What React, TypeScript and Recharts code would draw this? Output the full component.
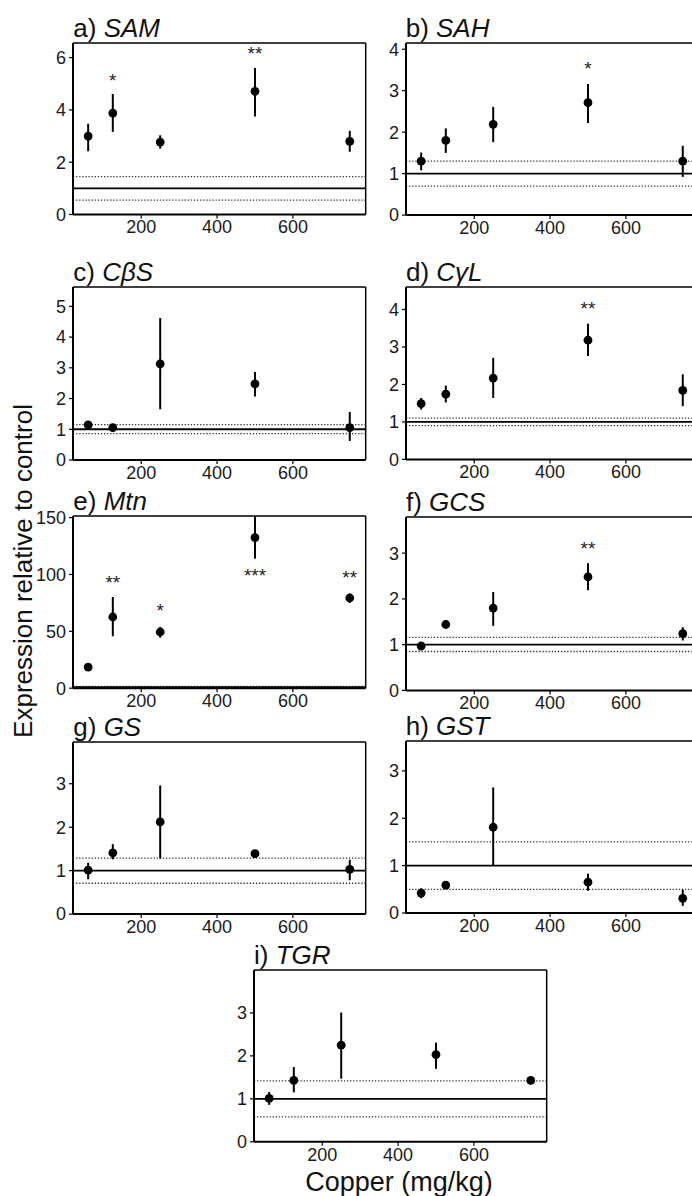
import React from 'react';
import { ScatterChart, Scatter, XAxis, YAxis, ReferenceLine, ErrorBar } from 'recharts';

// copper doses (mg/kg)
const doses = [60, 125, 250, 500, 750];
const xTicks = [200, 400, 600];
const xDomain = [20, 792];

// a) SAM
const samMean = [3.0, 3.88, 2.77, 4.71, 2.8];
const samHigh = [3.47, 4.61, 3.03, 5.6, 3.2];
const samLow = [2.42, 3.16, 2.52, 3.75, 2.4];
const samBand = [0.55, 1.45];
const samStars = [{ x: 125, y: 5.3, text: '*' }, { x: 500, y: 6.32, text: '**' }];

// b) SAH
const sahMean = [1.3, 1.8, 2.19, 2.71, 1.3];
const sahHigh = [1.51, 2.09, 2.61, 3.16, 1.67];
const sahLow = [1.08, 1.5, 1.76, 2.22, 0.92];
const sahBand = [0.7, 1.3];
const sahStars = [{ x: 500, y: 3.65, text: '*' }];

// c) CβS
const cbsMean = [1.14, 1.05, 3.13, 2.48, 1.05];
const cbsHigh = [1.18, 1.09, 4.62, 2.86, 1.56];
const cbsLow = [1.1, 1.01, 1.65, 2.07, 0.62];
const cbsBand = [0.86, 1.15];
const cbsStars: { x: number; y: number; text: string }[] = [];

// d) CγL
const cglMean = [1.49, 1.74, 2.17, 3.18, 1.84];
const cglHigh = [1.64, 1.97, 2.71, 3.62, 2.27];
const cglLow = [1.33, 1.52, 1.64, 2.76, 1.42];
const cglBand = [0.9, 1.1];
const cglStars = [{ x: 500, y: 4.14, text: '**' }];

// e) Mtn
const mtnMean = [18.6, 62.6, 49.4, 132.4, 79.3];
const mtnHigh = [21.5, 80.2, 53.8, 151, 83.2];
const mtnLow = [15.5, 45.6, 44.5, 113.9, 74.9];
const mtnBand = [0.5, 1.5];
const mtnStars = [
  { x: 125, y: 97.2, text: '**' },
  { x: 250, y: 72.3, text: '*' },
  { x: 500, y: 102.8, text: '***' },
  { x: 750, y: 101.3, text: '**' },
];

// f) GCS
const gcsMean = [0.97, 1.44, 1.8, 2.48, 1.24];
const gcsHigh = [1.0, 1.47, 2.15, 2.78, 1.38];
const gcsLow = [0.94, 1.41, 1.41, 2.19, 1.09];
const gcsBand = [0.85, 1.16];
const gcsStars = [{ x: 500, y: 3.2, text: '**' }];

// g) GS
const gsMean = [1.01, 1.41, 2.12, 1.39, 1.03];
const gsHigh = [1.18, 1.61, 2.96, 1.47, 1.25];
const gsLow = [0.8, 1.26, 1.28, 1.29, 0.78];
const gsBand = [0.71, 1.29];
const gsStars: { x: number; y: number; text: string }[] = [];

// h) GST
const gstMean = [0.42, 0.59, 1.81, 0.65, 0.31];
const gstHigh = [0.52, 0.66, 2.65, 0.83, 0.49];
const gstLow = [0.31, 0.52, 1.0, 0.47, 0.15];
const gstBand = [0.5, 1.5];
const gstStars: { x: number; y: number; text: string }[] = [];

// i) TGR
const tgrMean = [1.01, 1.43, 2.25, 2.03, 1.43];
const tgrHigh = [1.16, 1.74, 3.01, 2.31, 1.5];
const tgrLow = [0.86, 1.15, 1.47, 1.7, 1.36];
const tgrBand = [0.58, 1.42];
const tgrStars: { x: number; y: number; text: string }[] = [];

const panels = [
  { letter: 'a)', gene: 'SAM', mean: samMean, high: samHigh, low: samLow, band: samBand, stars: samStars, yTicks: [0, 2, 4, 6] },
  { letter: 'b)', gene: 'SAH', mean: sahMean, high: sahHigh, low: sahLow, band: sahBand, stars: sahStars, yTicks: [0, 1, 2, 3, 4] },
  { letter: 'c)', gene: 'CβS', mean: cbsMean, high: cbsHigh, low: cbsLow, band: cbsBand, stars: cbsStars, yTicks: [0, 1, 2, 3, 4, 5] },
  { letter: 'd)', gene: 'CγL', mean: cglMean, high: cglHigh, low: cglLow, band: cglBand, stars: cglStars, yTicks: [0, 1, 2, 3, 4] },
  { letter: 'e)', gene: 'Mtn', mean: mtnMean, high: mtnHigh, low: mtnLow, band: mtnBand, stars: mtnStars, yTicks: [0, 50, 100, 150] },
  { letter: 'f)', gene: 'GCS', mean: gcsMean, high: gcsHigh, low: gcsLow, band: gcsBand, stars: gcsStars, yTicks: [0, 1, 2, 3] },
  { letter: 'g)', gene: 'GS', mean: gsMean, high: gsHigh, low: gsLow, band: gsBand, stars: gsStars, yTicks: [0, 1, 2, 3] },
  { letter: 'h)', gene: 'GST', mean: gstMean, high: gstHigh, low: gstLow, band: gstBand, stars: gstStars, yTicks: [0, 1, 2, 3] },
  { letter: 'i)', gene: 'TGR', mean: tgrMean, high: tgrHigh, low: tgrLow, band: tgrBand, stars: tgrStars, yTicks: [0, 1, 2, 3] },
];

// plot box placement for each panel (page pixels)
const boxW = 292.7;
const layout = [
  { left: 73.3, top: 43, bottom: 214.5, yMax: 6.56 },
  { left: 405.7, top: 42.7, bottom: 214.8, yMax: 4.15 },
  { left: 73.3, top: 286.7, bottom: 459.7, yMax: 5.63 },
  { left: 406, top: 286.7, bottom: 459.1, yMax: 4.6 },
  { left: 73.3, top: 515.7, bottom: 687.9, yMax: 151.4 },
  { left: 406, top: 516.7, bottom: 690.1, yMax: 3.79 },
  { left: 73.3, top: 741.7, bottom: 913.8, yMax: 3.96 },
  { left: 405.7, top: 741, bottom: 913, yMax: 3.63 },
  { left: 254, top: 970, bottom: 1141.8, yMax: 4.0 },
];

const FONT = '"Liberation Sans", Arial, Helvetica, sans-serif';
const tickStyle = { fill: '#1a1a1a', fontSize: 18, fontFamily: FONT };

type Panel = typeof panels[number];
type Box = typeof layout[number];

const Dot = (props: any) => <circle cx={props.cx} cy={props.cy} r={4.4} fill="#000" />;

const Star = (props: any) => (
  <text
    x={props.cx}
    y={props.cy + 11}
    textAnchor="middle"
    fontSize={19}
    fontFamily={FONT}
    fill="#222"
  >
    {props.payload.text}
  </text>
);

const PanelChart: React.FC<{ p: Panel; box: Box }> = ({ p, box }) => {
  const padL = 60, padT = 12, padR = 12, padB = 40;
  const w = boxW + padL + padR;
  const h = box.bottom - box.top + padT + padB;
  const rows = doses.map((d, i) => ({
    x: d,
    y: p.mean[i],
    err: [p.mean[i] - p.low[i], p.high[i] - p.mean[i]],
  }));

  return (
    <div style={{ position: 'absolute', left: box.left - padL, top: box.top - padT }}>
      <ScatterChart width={w} height={h} margin={{ top: padT, right: padR, left: 0, bottom: 0 }}>
        <XAxis
          type="number"
          dataKey="x"
          domain={xDomain}
          ticks={xTicks}
          allowDataOverflow
          height={padB}
          tickSize={4}
          tickMargin={2}
          axisLine={{ stroke: '#000', strokeWidth: 2 }}
          tickLine={{ stroke: '#000', strokeWidth: 1.2 }}
          tick={tickStyle}
        />
        <YAxis
          type="number"
          dataKey="y"
          domain={[0, box.yMax]}
          ticks={p.yTicks}
          allowDataOverflow
          width={padL}
          tickSize={4}
          tickMargin={3}
          axisLine={{ stroke: '#000', strokeWidth: 2 }}
          tickLine={{ stroke: '#000', strokeWidth: 1.2 }}
          tick={tickStyle}
        />
        {/* top and right frame */}
        <ReferenceLine y={box.yMax} stroke="#000" strokeWidth={1.5} />
        <ReferenceLine x={xDomain[1]} stroke="#000" strokeWidth={1.5} />
        {p.band.map((v) => (
          <ReferenceLine key={v} y={v} stroke="#333" strokeWidth={1.3} strokeDasharray="1.3 1.8" />
        ))}
        <ReferenceLine y={1} stroke="#000" strokeWidth={1.8} />
        <Scatter data={rows} shape={Dot} isAnimationActive={false}>
          <ErrorBar dataKey="err" direction="y" width={0} stroke="#000" strokeWidth={2} />
        </Scatter>
        <Scatter data={p.stars} shape={Star} isAnimationActive={false} />
      </ScatterChart>
    </div>
  );
};

export default function App() {
  return (
    <div
      style={{
        position: 'absolute',
        left: 0,
        top: 0,
        width: 692,
        height: 1196,
        overflow: 'hidden',
        background: '#fff',
        fontFamily: FONT,
      }}
    >
      {panels.map((p, i) => (
        <PanelChart key={p.gene} p={p} box={layout[i]} />
      ))}
      <svg
        width={692}
        height={1196}
        style={{ position: 'absolute', left: 0, top: 0, pointerEvents: 'none' }}
      >
        {panels.map((p, i) => (
          <text
            key={p.gene}
            x={layout[i].left}
            y={layout[i].top - 6}
            fontSize={26}
            fontFamily={FONT}
            fill="#111"
            style={{ whiteSpace: 'pre' }}
          >
            {p.letter + ' '}
            <tspan fontStyle="italic">{p.gene}</tspan>
          </text>
        ))}
        <text
          x={32}
          y={571}
          transform="rotate(-90 32 571)"
          textAnchor="middle"
          fontSize={26}
          fontFamily={FONT}
          fill="#111"
        >
          Expression relative to control
        </text>
        <text x={399} y={1191} textAnchor="middle" fontSize={27} fontFamily={FONT} fill="#111">
          Copper (mg/kg)
        </text>
      </svg>
    </div>
  );
}
